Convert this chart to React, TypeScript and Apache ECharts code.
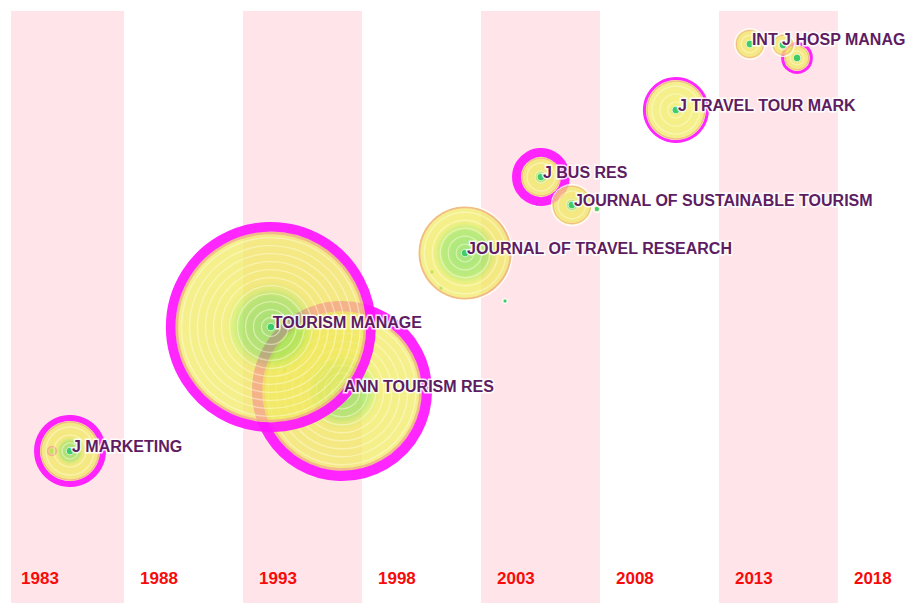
import React, { useEffect, useRef } from 'react';
import * as echarts from 'echarts';

// Time zones (5-year slices) and which of them are shaded
const periodYears = [1983, 1988, 1993, 1998, 2003, 2008, 2013, 2018];
const shadedPeriods = [1983, 1993, 2003, 2013];

// Main journal nodes (draw order: ANN before TOURISM MANAGE)
const journalNames = [
  'J MARKETING',
  'ANN TOURISM RES',
  'TOURISM MANAGE',
  'JOURNAL OF TRAVEL RESEARCH',
  'J BUS RES',
  'JOURNAL OF SUSTAINABLE TOURISM',
  'J TRAVEL TOUR MARK',
  'INT J HOSP MANAG',
  '',
  '',
];
const journalYears = [1985.73, 1997.16, 1994.17, 2002.33, 2005.52, 2006.82, 2011.19, 2014.3, 2016.28, 2015.69];
const journalRows = [440, 380, 316, 242, 166, 194, 99, 33, 47, 34];
const journalCitations = [144, 900, 1225, 256, 93, 49, 121, 28, 28, 16];
const journalCentrality = [0.1, 0.17, 0.16, 0, 0.15, 0, 0.05, 0, 0.05, 0];
const journalEarlyShare = [0.4, 0.4, 0.4, 0.6, 0.3, 0.3, 0.12, 0.05, 0.1, 0.05];

// Minor (unlabelled) nodes
const minorYears = [1984.97, 2000.94, 2001.32, 2004.01, 2005.35, 2007.87, 1994.76, 1996.36, 1997.16];
const minorRows = [440, 261, 277, 290, 193, 198, 359, 353, 346];
const minorCitations = [3, 1, 1, 1, 1, 2, 1, 1, 1];
const minorCentrality = [0.05, 0, 0, 0, 0, 0, 0, 0, 0];
const minorEarlyShare = [0.2, 0.5, 0.1, 0.1, 0.3, 0.6, 0.1, 0.1, 0.1];

const X_MIN = 1983.25;
const X_MAX = 2021.07;
const LABEL_ROW = 567;

function renderNode(params: any, api: any) {
  const pt = api.coord([api.value(0), api.value(1)]);
  const cx = pt[0];
  const cy = pt[1];
  const R = 3 * Math.sqrt(api.value(2));
  const ring = api.value(3) * 60;
  const early = api.value(4);
  const children: any[] = [];
  const inner = ring > 0 ? R - ring : R - 1.2;
  const core = inner;
  const e = Math.min(0.9, early);
  const grad = new echarts.graphic.RadialGradient(0.5, 0.5, 0.5, [
    { offset: 0, color: '#7fdc4a' },
    { offset: e * 0.8, color: '#a2e34c' },
    { offset: e, color: '#d4ea52' },
    { offset: Math.min(1, e + 0.08), color: '#f0e957' },
    { offset: 1, color: '#f1ea62' },
  ]);
  children.push({ type: 'circle', shape: { cx, cy, r: core }, style: { fill: grad, opacity: 0.72 } });
  for (let rr = core - 6; rr > 4; rr -= 8) {
    children.push({
      type: 'circle',
      shape: { cx, cy, r: rr },
      style: { fill: 'none', stroke: 'rgba(255,255,225,0.45)', lineWidth: 1.4 },
    });
  }
  // thin outer band of the latest citations
  children.push({
    type: 'circle',
    shape: { cx, cy, r: core - 1.2 },
    style: { fill: 'none', stroke: 'rgba(240,170,140,0.75)', lineWidth: Math.max(1, Math.min(3, core * 0.04)) },
  });
  if (ring > 0) {
    children.push({
      type: 'circle',
      shape: { cx, cy, r: R - ring / 2 },
      style: { fill: 'none', stroke: 'rgba(255,20,255,0.92)', lineWidth: ring },
    });
  } else {
    children.push({
      type: 'circle',
      shape: { cx, cy, r: R - 0.6 },
      style: { fill: 'none', stroke: 'rgba(255,255,255,0.9)', lineWidth: 1.2 },
    });
  }
  children.push({
    type: 'circle',
    shape: { cx, cy, r: Math.min(3.8, Math.max(2, R * 0.6)) },
    style: { fill: '#3fcc66', stroke: 'rgba(255,255,255,0.7)', lineWidth: 1 },
  });
  return { type: 'group', children };
}

export default function App() {
  const ref = useRef<HTMLDivElement>(null);
  useEffect(() => {
    if (!ref.current) return;
    const chart = echarts.init(ref.current, null, { renderer: 'svg' });
    const journalData = journalYears.map((y, i) => [y, journalRows[i], journalCitations[i], journalCentrality[i], journalEarlyShare[i]]);
    const minorData = minorYears.map((y, i) => [y, minorRows[i], minorCitations[i], minorCentrality[i], minorEarlyShare[i]]);
    const labelData = journalYears
      .map((y, i) => ({ value: [y, journalRows[i]], name: journalNames[i] }))
      .filter((d) => d.name);
    chart.setOption({
      animation: false,
      backgroundColor: '#ffffff',
      grid: { left: 11, right: 0, top: 11, bottom: 0 },
      xAxis: { type: 'value', min: X_MIN, max: X_MAX, show: false },
      yAxis: { type: 'value', min: 0, max: 592, inverse: true, show: false },
      series: [
        {
          type: 'scatter',
          clip: false,
          symbolSize: 0,
          z: 1,
          itemStyle: { opacity: 1 },
          data: periodYears.map((y) => ({ value: [y, LABEL_ROW], name: String(y) })),
          label: {
            show: true,
            position: 'inside',
            align: 'left',
            verticalAlign: 'middle',
            offset: [16, 0],
            formatter: '{b}',
            color: '#f80a0a',
            fontSize: 17,
            fontWeight: 'bold',
            fontFamily: 'Liberation Sans, Arial, sans-serif',
          },
          markArea: {
            silent: true,
            itemStyle: { color: '#ffe5e9', opacity: 1 },
            data: shadedPeriods.map((s) => [{ xAxis: Math.max(s, X_MIN) }, { xAxis: s + 5 }]),
          },
        },
        {
          type: 'custom',
          z: 3,
          renderItem: renderNode,
          encode: { x: 0, y: 1 },
          data: minorData,
        },
        {
          type: 'custom',
          z: 4,
          renderItem: renderNode,
          encode: { x: 0, y: 1 },
          data: journalData,
        },
        {
          type: 'scatter',
          z: 10,
          symbolSize: 0,
          itemStyle: { opacity: 1 },
          data: labelData,
          label: {
            show: true,
            position: 'inside',
            align: 'left',
            verticalAlign: 'middle',
            offset: [2, -5],
            formatter: '{b}',
            color: '#5e1d62',
            fontSize: 16,
            fontWeight: 'bold',
            fontFamily: 'Liberation Sans, Arial, sans-serif',
            textBorderColor: 'rgba(255,255,255,0.85)',
            textBorderWidth: 3,
          },
        },
      ],
    });
    return () => chart.dispose();
  }, []);
  return (
    <div
      ref={ref}
      style={{ position: 'fixed', left: 0, top: 0, width: 911, height: 603 }}
    />
  );
}
